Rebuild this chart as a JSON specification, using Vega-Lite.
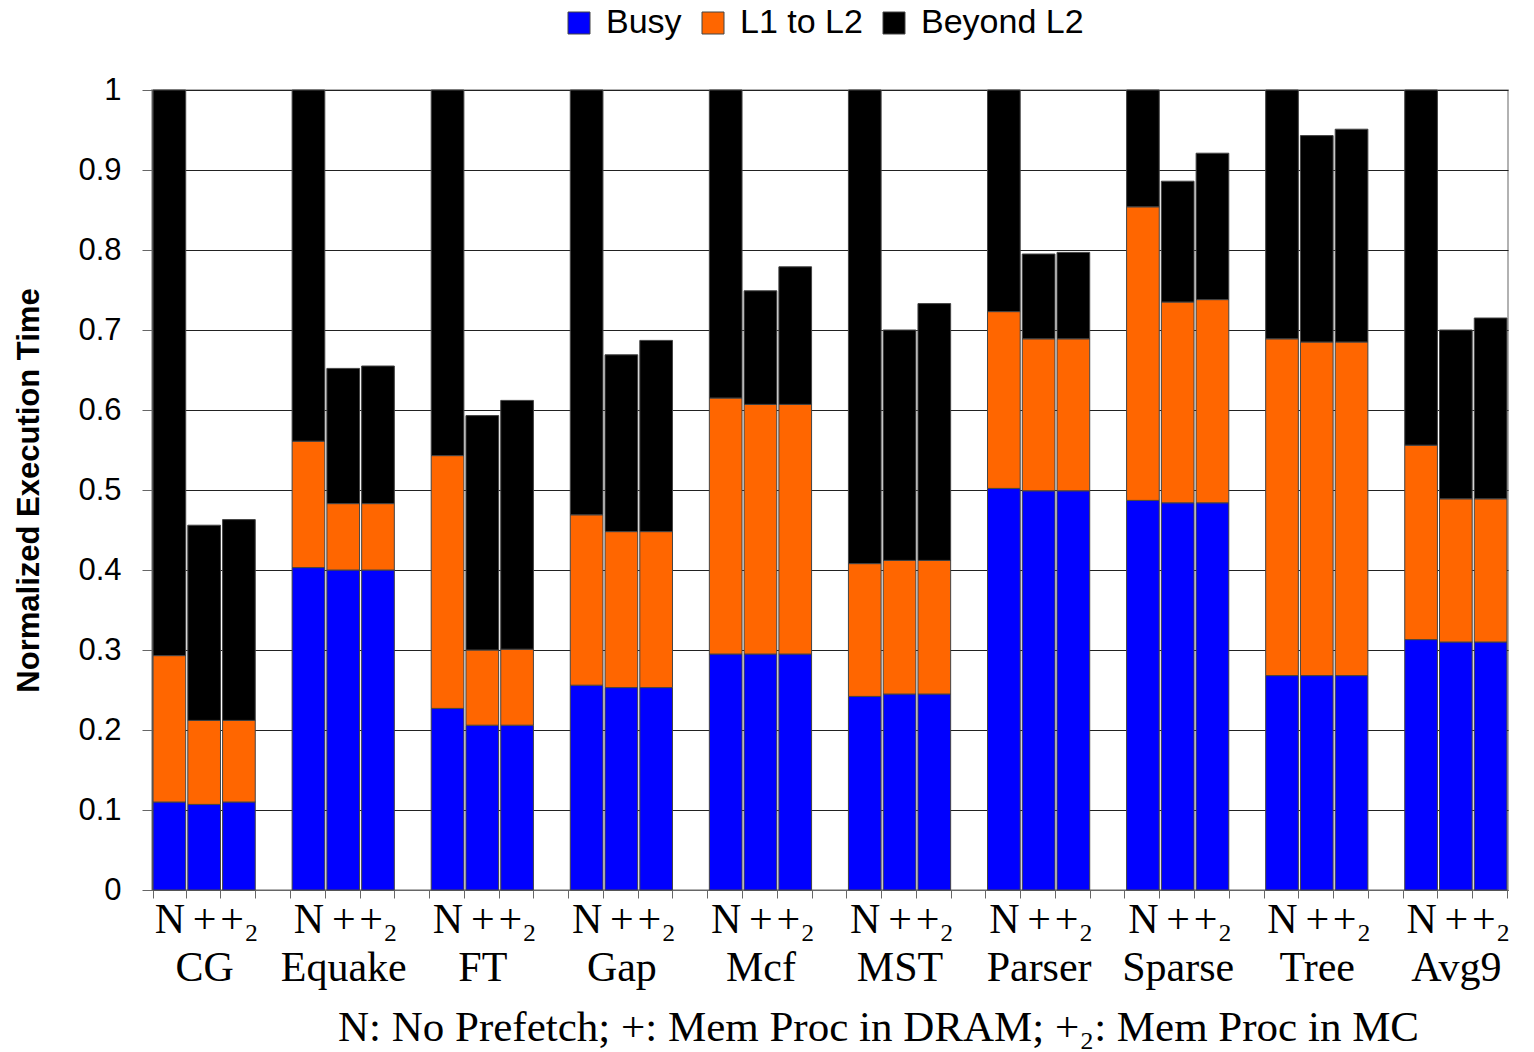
{
  "$schema": "https://vega.github.io/schema/vega-lite/v6.json",
  "autosize": "none",
  "width": 1356,
  "height": 800,
  "padding": {"left": 152, "top": 90, "right": 26, "bottom": 162},
  "background": "white",
  "config": {
    "view": {"stroke": "#999", "strokeWidth": 1.5},
    "font": "Liberation Sans"
  },
  "data": {
    "values": [
      {"slot": "CG|N", "busy": 0.110, "l1top": 0.293, "total": 1.000},
      {"slot": "CG|+", "busy": 0.107, "l1top": 0.212, "total": 0.456},
      {"slot": "CG|+₂", "busy": 0.110, "l1top": 0.212, "total": 0.463},
      {"slot": "Equake|N", "busy": 0.403, "l1top": 0.561, "total": 1.000},
      {"slot": "Equake|+", "busy": 0.400, "l1top": 0.483, "total": 0.652},
      {"slot": "Equake|+₂", "busy": 0.400, "l1top": 0.483, "total": 0.655},
      {"slot": "FT|N", "busy": 0.227, "l1top": 0.543, "total": 1.000},
      {"slot": "FT|+", "busy": 0.206, "l1top": 0.300, "total": 0.593},
      {"slot": "FT|+₂", "busy": 0.206, "l1top": 0.301, "total": 0.612},
      {"slot": "Gap|N", "busy": 0.256, "l1top": 0.469, "total": 1.000},
      {"slot": "Gap|+", "busy": 0.253, "l1top": 0.448, "total": 0.669},
      {"slot": "Gap|+₂", "busy": 0.253, "l1top": 0.448, "total": 0.687},
      {"slot": "Mcf|N", "busy": 0.295, "l1top": 0.615, "total": 1.000},
      {"slot": "Mcf|+", "busy": 0.295, "l1top": 0.607, "total": 0.749},
      {"slot": "Mcf|+₂", "busy": 0.295, "l1top": 0.607, "total": 0.779},
      {"slot": "MST|N", "busy": 0.242, "l1top": 0.408, "total": 1.000},
      {"slot": "MST|+", "busy": 0.245, "l1top": 0.412, "total": 0.700},
      {"slot": "MST|+₂", "busy": 0.245, "l1top": 0.412, "total": 0.733},
      {"slot": "Parser|N", "busy": 0.502, "l1top": 0.723, "total": 1.000},
      {"slot": "Parser|+", "busy": 0.499, "l1top": 0.689, "total": 0.795},
      {"slot": "Parser|+₂", "busy": 0.499, "l1top": 0.689, "total": 0.797},
      {"slot": "Sparse|N", "busy": 0.487, "l1top": 0.854, "total": 1.000},
      {"slot": "Sparse|+", "busy": 0.484, "l1top": 0.735, "total": 0.886},
      {"slot": "Sparse|+₂", "busy": 0.484, "l1top": 0.738, "total": 0.921},
      {"slot": "Tree|N", "busy": 0.268, "l1top": 0.689, "total": 1.000},
      {"slot": "Tree|+", "busy": 0.268, "l1top": 0.685, "total": 0.943},
      {"slot": "Tree|+₂", "busy": 0.268, "l1top": 0.685, "total": 0.951},
      {"slot": "Avg9|N", "busy": 0.313, "l1top": 0.556, "total": 1.000},
      {"slot": "Avg9|+", "busy": 0.310, "l1top": 0.489, "total": 0.700},
      {"slot": "Avg9|+₂", "busy": 0.310, "l1top": 0.489, "total": 0.715}
    ]
  },
  "encoding": {
    "x": {
      "field": "slot",
      "type": "nominal",
      "sort": null,
      "scale": {
        "domain": [
          "CG|N", "CG|+", "CG|+₂", "gap1",
          "Equake|N", "Equake|+", "Equake|+₂", "gap2",
          "FT|N", "FT|+", "FT|+₂", "gap3",
          "Gap|N", "Gap|+", "Gap|+₂", "gap4",
          "Mcf|N", "Mcf|+", "Mcf|+₂", "gap5",
          "MST|N", "MST|+", "MST|+₂", "gap6",
          "Parser|N", "Parser|+", "Parser|+₂", "gap7",
          "Sparse|N", "Sparse|+", "Sparse|+₂", "gap8",
          "Tree|N", "Tree|+", "Tree|+₂", "gap9",
          "Avg9|N", "Avg9|+", "Avg9|+₂"
        ],
        "paddingInner": 0.06,
        "paddingOuter": 0.03
      },
      "axis": {
        "title": "N: No Prefetch; +: Mem Proc in DRAM; +₂: Mem Proc in MC",
        "titleFont": "Liberation Serif",
        "titleFontSize": 43,
        "titleFontWeight": "normal",
        "titleColor": "#000",
        "titleX": 726,
        "titleY": 150,
        "titleBaseline": "alphabetic",
        "labelExpr": "!isString(datum.value) || indexof(datum.value, '|') < 0 ? '' : (split(datum.value, '|')[1] == '+' ? ['+', split(datum.value, '|')[0]] : split(datum.value, '|')[1])",
        "labelFont": "Liberation Serif",
        "labelFontSize": 42,
        "labelColor": "#000",
        "labelAngle": 0,
        "labelPadding": 1,
        "labelLineHeight": 48,
        "labelOverlap": false,
        "labelBound": false,
        "tickBand": "extent",
        "tickSize": 8,
        "tickColor": "#666",
        "domainColor": "#666",
        "grid": false
      }
    }
  },
  "layer": [
    {
      "mark": {"type": "bar", "stroke": "#444", "strokeWidth": 1},
      "encoding": {
        "y": {
          "field": "busy",
          "type": "quantitative",
          "scale": {"domain": [0, 1], "nice": false},
          "axis": {
            "title": "Normalized Execution Time",
            "titleFont": "Liberation Sans",
            "titleFontSize": 31,
            "titleFontWeight": "bold",
            "titleColor": "#000",
            "titleX": -114,
            "titleY": 400,
            "titleAngle": 270,
            "titleAlign": "center",
            "titleBaseline": "alphabetic",
            "values": [0, 0.1, 0.2, 0.3, 0.4, 0.5, 0.6, 0.7, 0.8, 0.9, 1],
            "format": ".1~f",
            "labelFont": "Liberation Sans",
            "labelFontSize": 31,
            "labelColor": "#000",
            "labelPadding": 21,
            "tickSize": 10,
            "tickColor": "#666",
            "domainColor": "#666",
            "grid": true,
            "gridColor": "#222",
            "gridWidth": 1
          }
        },
        "color": {
          "datum": "Busy",
          "scale": {
            "domain": ["Busy", "L1 to L2", "Beyond L2"],
            "range": ["#0000FF", "#FF6600", "#000000"]
          },
          "legend": {
            "title": null,
            "orient": "none",
            "direction": "horizontal",
            "legendX": 410,
            "legendY": -84,
            "symbolType": "square",
            "symbolSize": 484,
            "symbolStrokeColor": "#000",
            "symbolStrokeWidth": 1,
            "symbolOpacity": 1,
            "labelFont": "Liberation Sans",
            "labelFontSize": 34,
            "labelColor": "#000",
            "labelOffset": 10,
            "columnPadding": 14,
            "labelLimit": 300
          }
        }
      }
    },
    {
      "mark": {"type": "bar", "stroke": "#444", "strokeWidth": 1},
      "encoding": {
        "y": {"field": "l1top", "type": "quantitative"},
        "y2": {"field": "busy"},
        "color": {"datum": "L1 to L2"}
      }
    },
    {
      "mark": {"type": "bar", "stroke": "#444", "strokeWidth": 1},
      "encoding": {
        "y": {"field": "total", "type": "quantitative"},
        "y2": {"field": "l1top"},
        "color": {"datum": "Beyond L2"}
      }
    }
  ]
}
